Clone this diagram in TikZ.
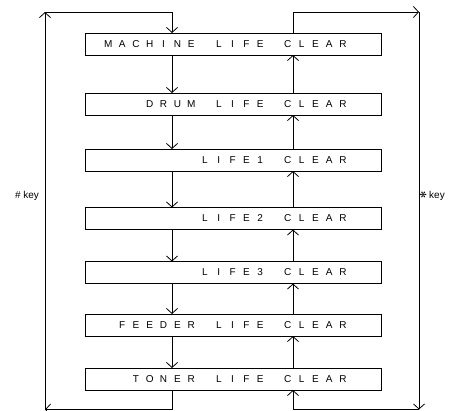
\documentclass[tikz,border=0pt]{standalone}
\usepackage{fontspec}
\setmainfont{Liberation Sans}
\newfontfamily\symfont{DejaVu Sans}
\usetikzlibrary{arrows.meta}

% one fixed cell per character, like a panel display
\def\lcdcells#1{\ifx\relax#1\else\makebox[13.8pt][c]{#1}\expandafter\lcdcells\fi}
\newcommand{\lifelabel}[1]{\makebox[296pt][r]{\lcdcells#1\relax\hspace*{31.1pt}}}

\tikzset{
    lifebox/.style={draw, line width=0.8pt, minimum width=296pt, minimum height=22pt,
        inner sep=0pt, font=\fontsize{10}{12}\selectfont},
    flow/.style={line width=0.8pt, -{Straight Barb[length=5pt,width=11pt]}},
    plain/.style={line width=0.8pt},
    keytext/.style={font=\fontsize{10}{12}\selectfont}
}

\begin{document}
\begin{tikzpicture}[x=1pt,y=-1pt,inner sep=0pt,outer sep=0pt]
    \useasboundingbox (0,0) rectangle (454,410);

    % clear steps
    \node[lifebox] (machine_box) at (233,44)    {\lifelabel{MACHINE~LIFE~CLEAR}};
    \node[lifebox] (drum_box)    at (233,104)   {\lifelabel{DRUM~LIFE~CLEAR}};
    \node[lifebox] (life1_box)   at (233,160)   {\lifelabel{LIFE1~CLEAR}};
    \node[lifebox] (life2_box)   at (233,218.5) {\lifelabel{LIFE2~CLEAR}};
    \node[lifebox] (life3_box)   at (233,272.5) {\lifelabel{LIFE3~CLEAR}};
    \node[lifebox] (feeder_box)  at (233,325)   {\lifelabel{FEEDER~LIFE~CLEAR}};
    \node[lifebox] (toner_box)   at (233,379)   {\lifelabel{TONER~LIFE~CLEAR}};

    % corners of the two loops
    \coordinate (top_l)  at (45,12);
    \coordinate (top_m)  at (172,12);
    \coordinate (top_r1) at (293,12);
    \coordinate (top_r2) at (419,12);
    \coordinate (bot_l)  at (45,409.5);
    \coordinate (bot_m)  at (172,409.5);
    \coordinate (bot_r1) at (293,409.5);
    \coordinate (bot_r2) at (419,409.5);

    % # key: downwards
    \draw[flow] (top_m) -- (machine_box.north -| top_m);
    \draw[flow] (machine_box.south -| top_m) -- (drum_box.north -| top_m);
    \draw[flow] (drum_box.south -| top_m) -- (life1_box.north -| top_m);
    \draw[flow] (life1_box.south -| top_m) -- (life2_box.north -| top_m);
    \draw[flow] (life2_box.south -| top_m) -- (life3_box.north -| top_m);
    \draw[flow] (life3_box.south -| top_m) -- (feeder_box.north -| top_m);
    \draw[flow] (feeder_box.south -| top_m) -- (toner_box.north -| top_m);
    \draw[plain] (toner_box.south -| top_m) -- (bot_m);
    \draw[flow] (bot_m) -- (bot_l);
    \draw[flow] (bot_l) -- (top_l);
    \draw[plain] (top_l) -- (top_m);

    % star key: upwards
    \draw[plain] (bot_r1) -- (bot_r2);
    \draw[flow] (bot_r1) -- (toner_box.south -| top_r1);
    \draw[flow] (toner_box.north -| top_r1) -- (feeder_box.south -| top_r1);
    \draw[flow] (feeder_box.north -| top_r1) -- (life3_box.south -| top_r1);
    \draw[flow] (life3_box.north -| top_r1) -- (life2_box.south -| top_r1);
    \draw[flow] (life2_box.north -| top_r1) -- (life1_box.south -| top_r1);
    \draw[flow] (life1_box.north -| top_r1) -- (drum_box.south -| top_r1);
    \draw[flow] (drum_box.north -| top_r1) -- (machine_box.south -| top_r1);
    \draw[plain] (machine_box.north -| top_r1) -- (top_r1);
    \draw[flow] (top_r1) -- (top_r2);
    \draw[flow] (top_r2) -- (bot_r2);

    % keys
    \node[keytext, anchor=east] (hash_key) at (39,196) {\# key};
    \node[keytext, anchor=west] (star_key) at (420,196)
    {\raisebox{0.5pt}{\symfont\fontsize{8.5}{9}\selectfont\rotatebox[origin=c]{90}{✻}} key};

\end{tikzpicture}
\end{document}
